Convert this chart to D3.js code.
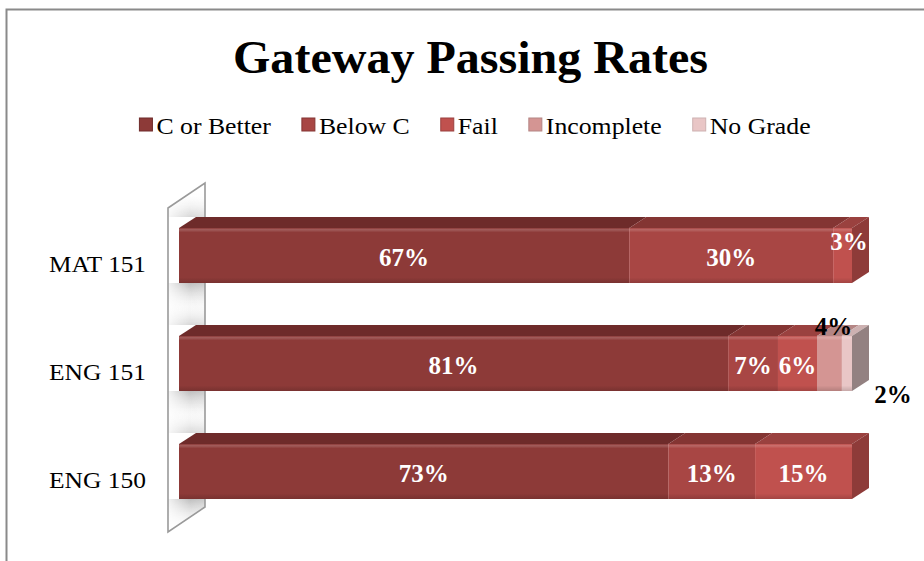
<!DOCTYPE html>
<html><head><meta charset="utf-8">
<script src="https://cdn.jsdelivr.net/npm/d3@7"></script>
<style>
html,body{margin:0;padding:0;background:#fff;}
svg{display:block;}
</style></head>
<body>
<svg id="chart" width="924" height="561"></svg>
<script>
// ---- data ----
const title = "Gateway Passing Rates";
const categories = ["MAT 151", "ENG 151", "ENG 150"];
const seriesNames = ["C or Better", "Below C", "Fail", "Incomplete", "No Grade"];
// shares (each bar totals ~100%)
const cOrBetter  = [66.9, 81.6, 72.7];
const belowC     = [30.3, 7.4, 12.9];
const fail       = [2.8, 5.8, 14.4];
const incomplete = [0, 3.7, 0];
const noGrade    = [0, 1.5, 0];
// printed data labels
const labelCOrBetter  = ["67%", "81%", "73%"];
const labelBelowC     = ["30%", "7%", "13%"];
const labelFail       = ["3%", "6%", "15%"];
const labelIncomplete = ["", "4%", ""];
const labelNoGrade    = ["", "2%", ""];

// ---- styles ----
const frontColors = ["#8d3a38", "#a84644", "#c0514e", "#d49593", "#e9c6c6"];
const topColors   = ["#6e2b2a", "#843533", "#9a413f", "#b48584", "#cdb1b1"];
const sideColors  = ["#6a2827", "#7c3230", "#8e3b39", "#9e7a79", "#938181"];
const serif = "'Liberation Serif','Times New Roman',serif";

const svg = d3.select("#chart");
const defs = svg.append("defs");

const seriesArrays = [cOrBetter, belowC, fail, incomplete, noGrade];
const labelArrays = [labelCOrBetter, labelBelowC, labelFail, labelIncomplete, labelNoGrade];
const table = categories.map((c, i) => {
  const row = {category: c};
  seriesNames.forEach((s, k) => row[s] = seriesArrays[k][i]);
  return row;
});
const stacked = d3.stack().keys(seriesNames).offset(d3.stackOffsetExpand)(table);

// frame
svg.append("rect").attr("x", 6.5).attr("y", 9.5).attr("width", 1000).attr("height", 700)
  .attr("fill", "#fff").attr("stroke", "#8a8a8a").attr("stroke-width", 2);

// title
svg.append("text").attr("x", 470.5).attr("y", 73).attr("text-anchor", "middle")
  .attr("font-family", serif).attr("font-weight", "bold").attr("font-size", 47)
  .attr("textLength", 475).attr("lengthAdjust", "spacingAndGlyphs")
  .attr("fill", "#000").text(title);

// scales
const x = d3.scaleLinear().domain([0, 1]).range([179, 852]);
const y = d3.scaleBand().domain(categories).range([201, 526]).paddingInner(0.4907).paddingOuter(0.25);
const dx = 17, dy = 11;
const bw = y.bandwidth();

// gradients
const g1 = defs.append("linearGradient").attr("id", "faceShade").attr("x1", 0).attr("y1", 0).attr("x2", 0).attr("y2", 1);
g1.append("stop").attr("offset", "0").attr("stop-color", "#fff").attr("stop-opacity", 0.0);
g1.append("stop").attr("offset", "0.03").attr("stop-color", "#fff").attr("stop-opacity", 0.18);
g1.append("stop").attr("offset", "0.08").attr("stop-color", "#fff").attr("stop-opacity", 0.0);
g1.append("stop").attr("offset", "0.9").attr("stop-color", "#000").attr("stop-opacity", 0.0);
g1.append("stop").attr("offset", "1").attr("stop-color", "#000").attr("stop-opacity", 0.15);
const g2 = defs.append("linearGradient").attr("id", "wallShade").attr("x1", 0).attr("y1", 0).attr("x2", 0).attr("y2", 1);
g2.append("stop").attr("offset", "0").attr("stop-color", "#a8a8a8").attr("stop-opacity", 0.75);
g2.append("stop").attr("offset", "0.5").attr("stop-color", "#d8d8d8").attr("stop-opacity", 0.4);
g2.append("stop").attr("offset", "1").attr("stop-color", "#fff").attr("stop-opacity", 0);
const g3 = defs.append("linearGradient").attr("id", "wallShadeUp").attr("x1", 0).attr("y1", 1).attr("x2", 0).attr("y2", 0);
g3.append("stop").attr("offset", "0").attr("stop-color", "#bdbdbd").attr("stop-opacity", 0.6);
g3.append("stop").attr("offset", "1").attr("stop-color", "#fff").attr("stop-opacity", 0);
const g4 = defs.append("linearGradient").attr("id", "wallFadeX").attr("x1", 0).attr("y1", 0).attr("x2", 1).attr("y2", 0);
g4.append("stop").attr("offset", "0").attr("stop-color", "#fff").attr("stop-opacity", 1);
g4.append("stop").attr("offset", "0.6").attr("stop-color", "#fff").attr("stop-opacity", 0);
defs.append("mask").attr("id", "wallMask").append("rect").attr("x", 168).attr("y", 150).attr("width", 40).attr("height", 400)
  .attr("fill", "url(#wallMaskGrad)");
const g5 = defs.append("linearGradient").attr("id", "wallMaskGrad").attr("x1", 0).attr("y1", 0).attr("x2", 1).attr("y2", 0);
g5.append("stop").attr("offset", "0").attr("stop-color", "#fff").attr("stop-opacity", 0.2);
g5.append("stop").attr("offset", "0.55").attr("stop-color", "#fff").attr("stop-opacity", 1);
g5.append("stop").attr("offset", "1").attr("stop-color", "#fff").attr("stop-opacity", 0.8);

// wall (3D side wall at the category axis)
const wallX0 = 168, wallDX = 37, wallDY = 25;
const wallTop = 208, wallBottom = 532;
const wallPts = [[wallX0, wallTop], [wallX0 + wallDX, wallTop - wallDY], [wallX0 + wallDX, wallBottom - wallDY], [wallX0, wallBottom]];
defs.append("clipPath").attr("id", "wallClip").append("polygon").attr("points", wallPts.map(p => p.join(",")).join(" "));
svg.append("polygon").attr("points", wallPts.map(p => p.join(",")).join(" "))
  .attr("fill", "#fff").attr("stroke", "none");
const wallShadow = svg.append("g").attr("clip-path", "url(#wallClip)").append("g").attr("mask", "url(#wallMask)");
categories.forEach(c => {
  wallShadow.append("rect").attr("x", wallX0).attr("y", y(c) + bw).attr("width", wallDX).attr("height", 34)
    .attr("fill", "url(#wallShade)");
  wallShadow.append("rect").attr("x", wallX0).attr("y", y(c) - dy - 26).attr("width", wallDX).attr("height", 26)
    .attr("fill", "url(#wallShadeUp)");
});
svg.append("polygon").attr("points", wallPts.map(p => p.join(",")).join(" "))
  .attr("fill", "none").attr("stroke", "#9a9a9a").attr("stroke-width", 1.6);

// bars
const barsG = svg.append("g");
categories.forEach((c, i) => {
  const y0 = y(c);
  let lastK = -1;
  stacked.forEach((layer, k) => { if (layer[i][1] - layer[i][0] > 0) lastK = k; });
  stacked.forEach((layer, k) => {
    const a = layer[i][0], b = layer[i][1];
    if (b - a <= 0) return;
    const xa = x(a), xb = x(b);
    barsG.append("polygon")
      .attr("points", [[xa, y0], [xa + dx, y0 - dy], [xb + dx, y0 - dy], [xb, y0]].map(p => p.join(",")).join(" "))
      .attr("fill", topColors[k]);
    barsG.append("rect").attr("x", xa).attr("y", y0).attr("width", xb - xa).attr("height", bw)
      .attr("fill", frontColors[k]);
    barsG.append("rect").attr("x", xa).attr("y", y0).attr("width", xb - xa).attr("height", bw)
      .attr("fill", "url(#faceShade)");
    if (k === lastK) {
      barsG.append("polygon")
        .attr("points", [[xb, y0], [xb + dx, y0 - dy], [xb + dx, y0 + bw - dy], [xb, y0 + bw]].map(p => p.join(",")).join(" "))
        .attr("fill", sideColors[k]);
    }
  });
});

// data labels
const labelsG = svg.append("g").attr("font-family", serif).attr("font-weight", "bold").attr("font-size", 25);
categories.forEach((c, i) => {
  const y0 = y(c);
  let outsideCount = 0;
  stacked.forEach((layer, k) => {
    const a = layer[i][0], b = layer[i][1];
    const txt = labelArrays[k][i];
    if (b - a <= 0 || !txt) return;
    const xa = x(a), xb = x(b);
    const w = xb - xa;
    let lx = (xa + xb) / 2, ly = y0 + bw / 2 + 2, fill = "#fff";
    if (w < 30) {
      if (k >= 3) {
        fill = "#000";
        if (outsideCount === 0) { lx = lx + 4; ly = y0 - 9; }
        else { lx = xb + dx + 24; ly = y0 + bw + 3; }
        outsideCount++;
      } else {
        lx = lx + dx / 2 - 2; ly = y0 + 14;
      }
    }
    labelsG.append("text").attr("x", lx).attr("y", ly).attr("text-anchor", "middle")
      .attr("dominant-baseline", "central").attr("fill", fill).text(txt);
  });
});

// category axis labels
svg.append("g").selectAll("text").data(categories).join("text")
  .attr("x", 146).attr("y", d => y(d) + bw / 2 + 9)
  .attr("text-anchor", "end").attr("dominant-baseline", "central")
  .attr("font-family", serif).attr("font-size", 23).attr("fill", "#000")
  .attr("textLength", 97).attr("lengthAdjust", "spacingAndGlyphs")
  .text(d => d);

// legend
const legend = svg.append("g").attr("font-family", serif).attr("font-size", 23);
const items = legend.selectAll("g").data(seriesNames).join("g");
items.append("rect").attr("width", 13).attr("height", 13).attr("y", -7)
  .attr("fill", (d, k) => frontColors[k]).attr("stroke", (d, k) => topColors[k]).attr("stroke-width", 1);
items.append("text").attr("x", 17).attr("y", 1).attr("dominant-baseline", "central").text(d => d);
let cx = 0;
const positions = [];
items.each(function(d, k) {
  const t = d3.select(this).select("text");
  const tw = t.node().getComputedTextLength() * 1.12;
  t.attr("textLength", tw).attr("lengthAdjust", "spacingAndGlyphs");
  positions.push(cx);
  cx += 17 + tw + 31;
});
const totalW = cx - 31;
const startX = 475 - totalW / 2;
items.attr("transform", (d, k) => `translate(${startX + positions[k]},125)`);
</script>
</body></html>
